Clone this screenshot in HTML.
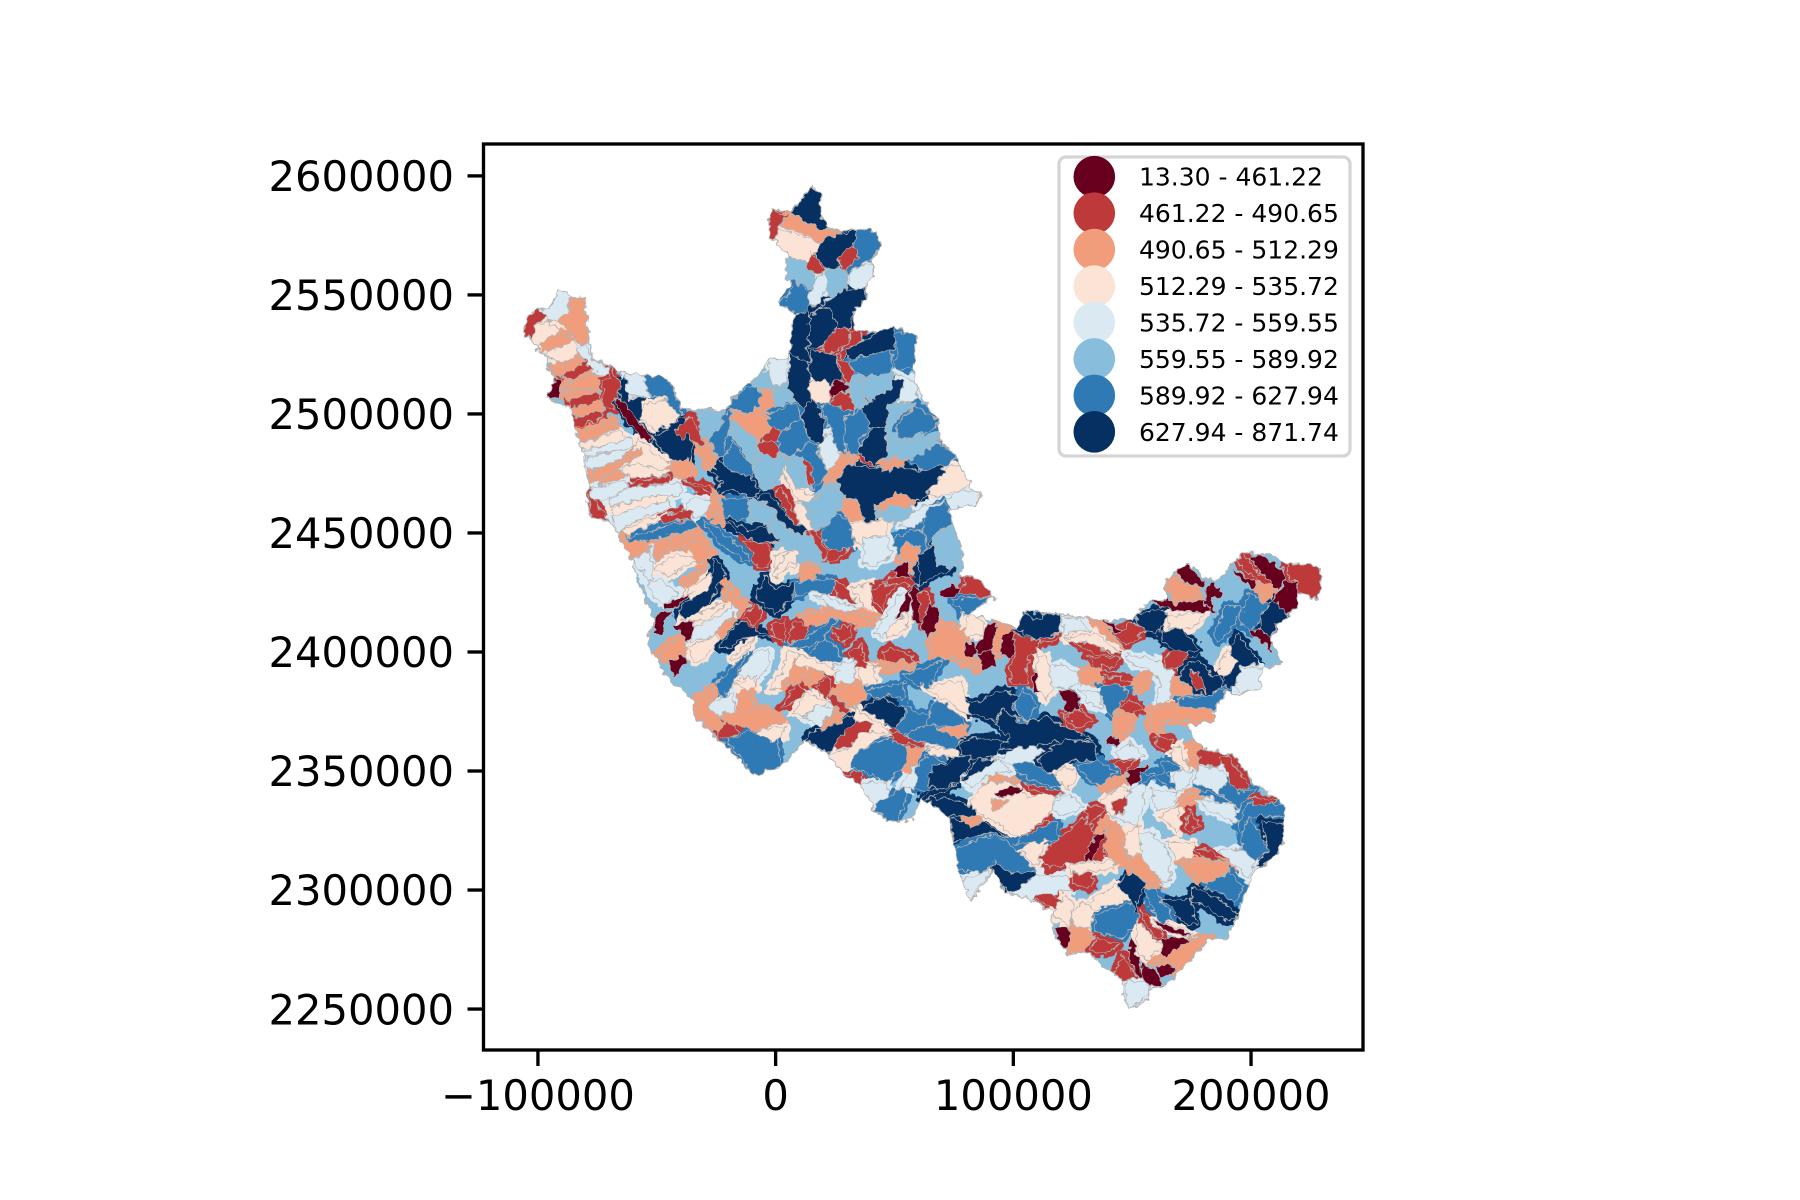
<!DOCTYPE html>
<html lang="en">
<head>
<meta charset="utf-8">
<title>Catchment choropleth</title>
<style>
html,body{margin:0;padding:0;background:#fff;width:1800px;height:1200px;overflow:hidden}
svg{display:block}
text{font-family:"DejaVu Sans","Liberation Sans",sans-serif;fill:#000}
</style>
</head>
<body>
<svg id="chart" xmlns="http://www.w3.org/2000/svg" width="1800" height="1200" viewBox="0 0 1800 1200">
<defs>
<filter id="rough-edge" filterUnits="userSpaceOnUse" x="480" y="140" width="890" height="915" color-interpolation-filters="sRGB">
<feTurbulence type="fractalNoise" baseFrequency="0.14" numOctaves="2" seed="4" result="noise"/>
<feDisplacementMap in="SourceGraphic" in2="noise" scale="9" xChannelSelector="R" yChannelSelector="G"/>
</filter>
<clipPath id="basin-clip"><polygon id="basin-clip-shape"/></clipPath>
</defs>
<rect width="1800" height="1200" fill="#fff"/>
<g id="map" filter="url(#rough-edge)">
<g id="map-fills" clip-path="url(#basin-clip)"></g>
</g>
<g id="axes"></g>
<g id="legend"></g>
</svg>
<script>
const xTicks = [-100000, 0, 100000, 200000];
const yTicks = [2250000, 2300000, 2350000, 2400000, 2450000, 2500000, 2550000, 2600000];
const classBreaks = [461.22, 490.65, 512.29, 535.72, 559.55, 589.92, 627.94, 871.74];
const classColors = ['#67001f', '#be3a3a', '#f19d7b', '#fbe3d6', '#dbe9f3', '#88bddb', '#2f79b5', '#053061'];
const legendLabels = ['13.30 - 461.22', '461.22 - 490.65', '490.65 - 512.29', '512.29 - 535.72', '535.72 - 559.55', '559.55 - 589.92', '589.92 - 627.94', '627.94 - 871.74'];

// Geometry: [estimated value, [easting km, northing km, ...]]
const basinOutline = [575, [-91,2553,-86,2549,-80,2549,-80,2544,-78,2531,-77,2523,-70,2520,-63,2517,-52,2516,-45,2515,-39,2502,-21,2502,-18,2506,-14,2511,-8,2516,-2,2523,5,2523,8,2542,1,2547,7,2556,4,2556,5,2566,0,2573,-3,2575,-2,2586,5,2585,11,2589,15,2596,19,2593,19,2583,22,2578,29,2577,34,2577,40,2578,45,2571,40,2564,42,2560,38,2553,38,2548,33,2544,33,2535,43,2534,50,2537,54,2535,60,2533,58,2520,59,2513,62,2506,68,2497,69,2489,76,2482,78,2478,82,2469,86,2467,85,2462,73,2460,75,2454,79,2439,78,2432,83,2432,92,2423,81,2416,93,2413,101,2410,105,2417,120,2416,131,2414,138,2413,150,2414,157,2421,164,2422,164,2429,168,2434,174,2437,181,2431,185,2430,190,2434,194,2439,197,2442,208,2441,215,2437,225,2437,230,2433,228,2422,219,2425,219,2419,214,2414,208,2406,213,2395,204,2393,204,2385,199,2384,195,2382,190,2384,184,2374,185,2371,174,2369,176,2362,181,2359,192,2357,202,2344,211,2339,214,2335,213,2328,214,2320,208,2312,202,2309,194,2289,190,2279,183,2280,169,2265,163,2259,157,2258,157,2254,149,2250,146,2254,146,2262,132,2273,123,2273,117,2282,116,2291,108,2296,103,2297,96,2299,92,2309,82,2295,78,2304,75,2319,73,2331,61,2339,58,2329,47,2329,42,2333,35,2345,29,2348,22,2357,12,2363,7,2357,2,2352,-9,2348,-19,2359,-25,2364,-34,2373,-35,2381,-44,2387,-54,2404,-51,2413,-61,2439,-65,2446,-66,2450,-70,2455,-77,2456,-80,2466,-78,2469,-82,2486,-86,2502,-96,2507,-93,2515,-95,2518,-97,2526,-101,2527,-103,2532,-106,2534,-105,2540,-100,2544,-95,2545]];

const northArmCatchments = [
[476,[-3,2575,-2,2586,5,2583,3,2579,1,2579,0,2574]],
[680,[6,2585,11,2589,15,2596,19,2593,19,2583,22,2578,19,2576,12,2581]],
[501,[1,2579,6,2584,12,2581,19,2577,29,2577,28,2576,21,2574,21,2571,11,2576,7,2577]],
[524,[0,2573,1,2578,7,2576,11,2575,19,2572,17,2568,13,2564,5,2566]],
[680,[17,2569,21,2574,34,2577,33,2572,26,2562,23,2561,17,2565]],
[609,[34,2577,40,2578,45,2571,40,2565,34,2562,30,2559,26,2561,33,2571]],
[476,[30,2570,35,2569,34,2565,29,2560,26,2564]],
[476,[15,2568,17,2565,21,2560,20,2559,14,2560,13,2564]],
[575,[5,2566,13,2564,14,2560,17,2558,17,2554,14,2553,7,2556,4,2556]],
[575,[21,2560,26,2562,30,2559,30,2552,24,2549,21,2552]],
[548,[31,2559,36,2563,42,2562,40,2553,34,2553,31,2554]],
[548,[18,2558,21,2559,21,2552,17,2545,14,2545,14,2551]],
[609,[7,2556,14,2552,14,2544,8,2542,1,2547,6,2550]],
[548,[22,2549,29,2550,24,2547,19,2546]],
[680,[19,2546,29,2552,37,2553,38,2548,33,2544,31,2535,26,2536,24,2543]],
[680,[8,2542,14,2543,14,2531,13,2527,15,2522,12,2522,6,2526,4,2530,6,2536]],
[680,[14,2540,19,2545,24,2543,26,2537,21,2528,14,2528]],
[680,[6,2526,14,2521,14,2516,15,2507,12,2502,5,2509,6,2517]],
[680,[15,2527,26,2525,26,2520,28,2516,24,2511,16,2514,14,2517]],
[524,[14,2513,20,2514,23,2513,23,2505,17,2504,15,2507]],
[440,[23,2510,26,2515,31,2512,31,2510,27,2509,24,2506]],
[476,[24,2506,27,2509,31,2509,33,2501,27,2502,23,2504]],
[680,[12,2502,15,2507,21,2497,20,2486,14,2490,11,2499]],
[476,[19,2527,26,2537,32,2534,31,2530,28,2528,24,2526]],
[476,[31,2534,35,2536,37,2531,31,2527,29,2523,26,2525,31,2530]],
[476,[26,2523,30,2522,33,2517,31,2513,28,2516]],
[680,[30,2527,43,2534,50,2537,51,2531,49,2526,40,2525,31,2523]],
[609,[31,2522,40,2525,49,2526,49,2518,43,2514,33,2517]],
[609,[50,2534,54,2535,60,2533,58,2520,50,2518,51,2527]],
[575,[37,2515,49,2518,50,2513,49,2509,40,2505,36,2507]],
[575,[31,2513,37,2515,36,2507,40,2504,37,2501,33,2502,31,2509]],
[548,[50,2517,56,2515,59,2513,59,2506,52,2504,52,2509,54,2511,50,2513]],
[680,[37,2504,48,2510,50,2515,54,2513,52,2507,48,2500,46,2495,41,2494,37,2497]],
[680,[35,2486,41,2494,46,2495,47,2482,41,2478,35,2483]],
[609,[29,2500,37,2501,40,2494,35,2489,35,2483,31,2483,28,2492]],
[609,[19,2503,23,2504,33,2501,29,2499,29,2483,25,2486,22,2496]],
[548,[18,2485,22,2492,26,2486,27,2481,23,2475,19,2482]],
[575,[47,2504,51,2505,59,2504,50,2496,47,2495]],
[609,[51,2495,59,2504,68,2497,67,2494,57,2490,51,2490]],
[575,[47,2492,51,2489,68,2490,69,2488,61,2482,57,2481,47,2482]],
[609,[57,2481,69,2488,76,2482,72,2478,61,2476]],
[476,[34,2483,37,2482,42,2478,35,2480]],
[501,[42,2478,54,2481,54,2478,47,2476,44,2477]],
[680,[26,2472,31,2479,38,2478,47,2476,54,2478,61,2476,70,2478,71,2475,68,2468,64,2467,61,2463,52,2466,42,2462,43,2455,37,2455,34,2464,28,2466]],
[524,[64,2467,71,2475,73,2478,78,2478,82,2470,75,2467,67,2465]],
[548,[72,2464,78,2468,86,2467,85,2462,74,2460]],
[501,[42,2461,51,2467,58,2464,56,2460,50,2462,44,2459]],
[575,[43,2459,50,2462,59,2459,55,2455,45,2455]],
[548,[52,2453,58,2459,64,2462,72,2464,64,2457,58,2452]],
[609,[64,2460,71,2463,75,2455,66,2449,64,2441,61,2449]],
[575,[66,2448,75,2455,79,2440,72,2434,67,2437]],
[609,[49,2448,58,2451,62,2451,64,2441,57,2439,51,2441]],
[501,[51,2440,56,2447,62,2440,57,2435]]
];

const upperBasinCatchments = [
[575,[-32,2501,-21,2502,-23,2496,-28,2489,-32,2490]],
[609,[-21,2500,-18,2501,-21,2488,-21,2482,-25,2482,-28,2490,-23,2495]],
[609,[-20,2503,-13,2511,-8,2511,-5,2507,-9,2501,-16,2501]],
[575,[-9,2515,-3,2518,-1,2510,-5,2511,-8,2511]],
[548,[-3,2517,-2,2523,5,2523,5,2514,-1,2511]],
[575,[-1,2509,5,2514,8,2506,2,2503,-1,2504]],
[501,[-8,2504,-4,2511,0,2504,-4,2500]],
[609,[-4,2499,2,2502,8,2505,11,2498,5,2495,1,2490,-4,2495]],
[501,[-18,2500,-10,2501,-4,2499,-1,2493,-6,2490,-8,2488,-11,2492,-16,2496]],
[476,[-6,2490,0,2495,2,2491,-1,2488,-5,2488]],
[476,[-7,2488,-1,2489,2,2485,0,2481,-7,2484]],
[609,[1,2490,8,2497,11,2498,14,2489,8,2483,2,2483]],
[609,[8,2483,14,2488,19,2486,18,2483,22,2476,16,2468,14,2476,12,2480]],
[476,[10,2479,14,2480,16,2473,15,2469,12,2475]],
[575,[5,2482,8,2483,12,2480,14,2469,10,2468,5,2472]],
[575,[-18,2495,-11,2492,-7,2484,-11,2479,-14,2485,-18,2490]],
[609,[-21,2482,-18,2489,-14,2483,-10,2479,-10,2473,-16,2475,-22,2478]],
[575,[-10,2479,-4,2483,-1,2481,4,2483,4,2477,-1,2469,-6,2468,-9,2474]],
[680,[-27,2476,-24,2482,-21,2478,-16,2475,-11,2474,-7,2468,-9,2464,-15,2467,-19,2469,-24,2466,-23,2472]],
[501,[28,2482,33,2482,25,2471,21,2472,22,2476]],
[524,[2,2477,5,2476,9,2468,17,2465,16,2462,9,2464,6,2469]],
[524,[8,2464,11,2462,16,2451,14,2450,9,2455]],
[476,[0,2468,3,2468,10,2455,9,2453,3,2461]],
[680,[-8,2465,-3,2467,1,2462,7,2455,14,2451,10,2449,4,2453,-1,2460]],
[575,[13,2462,24,2470,29,2466,28,2461,23,2454,16,2451]],
[501,[28,2464,34,2464,37,2455,31,2455,28,2460]],
[609,[19,2450,26,2458,32,2454,33,2444,25,2442,20,2446]],
[524,[31,2454,47,2455,47,2449,37,2448,36,2444,33,2447]],
[548,[37,2448,47,2448,49,2441,41,2436,37,2437]],
[609,[-23,2464,-12,2465,-11,2458,-16,2455,-22,2458]],
[575,[-11,2462,-4,2462,0,2457,-2,2453,-10,2456]],
[680,[-22,2455,-17,2454,-11,2451,-5,2453,2,2446,-8,2446,-15,2450]],
[476,[-14,2447,-4,2445,-2,2441,-4,2436,-8,2436,-10,2442]],
[476,[16,2448,21,2446,22,2443,31,2443,26,2439,21,2439]],
[575,[-2,2455,6,2451,16,2448,20,2443,21,2438,10,2437,3,2444,-2,2451]],
[476,[14,2451,17,2451,22,2441,20,2439]],
[524,[-1,2440,8,2443,8,2435,1,2434]]
];

const westernStripCatchments = [
[476,[-105,2540,-100,2544,-95,2542,-101,2537,-103,2532,-106,2534]],
[548,[-98,2543,-91,2553,-86,2549,-87,2544,-91,2539,-96,2539]],
[501,[-87,2548,-80,2548,-80,2543,-78,2530,-82,2528,-85,2532,-91,2539,-87,2544]],
[524,[-103,2532,-101,2537,-96,2539,-90,2535,-98,2530,-101,2527]],
[501,[-98,2530,-90,2534,-85,2532,-85,2528,-96,2526]],
[524,[-97,2525,-85,2531,-83,2525,-91,2521]],
[548,[-84,2527,-80,2530,-77,2523,-70,2519,-70,2516,-78,2518,-82,2524]],
[501,[-95,2518,-82,2524,-81,2521,-91,2516]],
[476,[-90,2516,-80,2522,-78,2518,-88,2514]],
[440,[-94,2515,-90,2515,-91,2507,-96,2507]],
[501,[-88,2513,-75,2517,-74,2511,-91,2510]],
[501,[-91,2509,-74,2511,-74,2509,-87,2506]],
[476,[-87,2506,-74,2509,-73,2506,-86,2502]],
[501,[-86,2502,-73,2506,-72,2501,-84,2499]],
[476,[-85,2498,-73,2502,-73,2498,-86,2494]],
[476,[-73,2514,-70,2515,-70,2520,-68,2517,-64,2510,-68,2506,-68,2502,-72,2502]],
[680,[-65,2514,-62,2516,-62,2506,-55,2507,-57,2502,-52,2499,-57,2497,-50,2490,-52,2487,-63,2498,-66,2505]],
[440,[-68,2507,-65,2506,-52,2490,-53,2487,-63,2497]],
[548,[-63,2517,-56,2517,-53,2507,-62,2507]],
[609,[-56,2516,-51,2516,-45,2515,-39,2500,-42,2500,-47,2507,-53,2508]],
[524,[-55,2504,-47,2506,-40,2499,-44,2495,-51,2493,-57,2499]],
[680,[-52,2490,-44,2495,-40,2498,-38,2498,-35,2488,-36,2479,-44,2481,-49,2486]],
[476,[-42,2493,-37,2498,-35,2499,-30,2487,-33,2487,-37,2492,-40,2489]],
[501,[-33,2487,-28,2488,-26,2483,-25,2477,-29,2478]],
[501,[-84,2492,-68,2497,-66,2494,-83,2487]],
[524,[-83,2487,-66,2493,-61,2489,-82,2485]],
[548,[-82,2484,-60,2490,-60,2486,-80,2482]],
[548,[-81,2481,-60,2486,-64,2482,-78,2476]],
[524,[-58,2490,-54,2486,-44,2479,-48,2477,-62,2479]],
[501,[-77,2476,-65,2480,-57,2486,-56,2484,-68,2476,-76,2471]],
[501,[-75,2470,-67,2477,-61,2474,-71,2471]],
[524,[-61,2479,-48,2477,-44,2476,-46,2474,-61,2473,-65,2477]],
[501,[-44,2479,-37,2481,-35,2475,-39,2472,-44,2476]],
[476,[-62,2471,-44,2474,-45,2471,-54,2470,-62,2469]],
[548,[-78,2469,-63,2472,-62,2470,-71,2464,-78,2464]],
[548,[-70,2464,-62,2469,-40,2471,-40,2466,-54,2465,-70,2461]],
[476,[-79,2466,-77,2465,-71,2456,-70,2455,-77,2456]],
[524,[-70,2460,-54,2465,-44,2466,-45,2464,-68,2457]],
[548,[-69,2457,-45,2464,-44,2461,-61,2454,-66,2450]],
[524,[-65,2451,-46,2459,-44,2457,-63,2449]],
[476,[-48,2457,-36,2460,-35,2456,-48,2454]],
[609,[-63,2448,-35,2456,-33,2452,-62,2445]],
[501,[-66,2450,-63,2449,-62,2445,-54,2444,-54,2439,-63,2440]],
[501,[-52,2445,-33,2452,-32,2451,-39,2447,-50,2438,-51,2438]],
[548,[-37,2465,-32,2465,-27,2463,-28,2460,-33,2456,-37,2460]],
[476,[-38,2472,-33,2471,-27,2469,-27,2467,-33,2469]],
[501,[-26,2467,-23,2464,-25,2460,-22,2454,-26,2454,-28,2458]],
[609,[-31,2455,-26,2453,-15,2444,-10,2438,-14,2439,-23,2445]],
[501,[-39,2445,-31,2447,-26,2441,-32,2437]]
];

const centralCatchments = [
[501,[-65,2446,-57,2447,-53,2443,-61,2439]],
[501,[-51,2447,-44,2447,-48,2441,-51,2437]],
[548,[-61,2439,-53,2443,-51,2431,-54,2429,-56,2434]],
[524,[-51,2435,-42,2441,-32,2439,-40,2435,-44,2432,-48,2433]],
[501,[-39,2429,-31,2434,-33,2430,-38,2426]],
[524,[-37,2426,-27,2433,-26,2429,-28,2426,-35,2422]],
[680,[-41,2415,-39,2420,-28,2426,-26,2436,-27,2439,-23,2437,-21,2432,-29,2420,-35,2414]],
[440,[-47,2420,-35,2425,-42,2418,-47,2418]],
[440,[-51,2414,-49,2417,-43,2417,-47,2413,-47,2408,-51,2408]],
[548,[-54,2429,-48,2430,-41,2425,-47,2420,-51,2423]],
[501,[-50,2399,-44,2404,-40,2406,-37,2401,-42,2397,-47,2397]],
[440,[-45,2396,-39,2399,-37,2396,-42,2390,-44,2392]],
[440,[-43,2411,-35,2413,-34,2410,-37,2404,-40,2408]],
[548,[-36,2404,-34,2411,-23,2415,-18,2420,-16,2415,-24,2408,-29,2406]],
[524,[-40,2413,-23,2420,-21,2420,-28,2414,-35,2413]],
[501,[-25,2408,-18,2416,-16,2413,-23,2405]],
[501,[-21,2429,-15,2422,-10,2420,-15,2415,-18,2422,-21,2423]],
[524,[-37,2402,-25,2407,-25,2404,-30,2397,-35,2396]],
[680,[-24,2402,-17,2411,-14,2413,-7,2409,0,2406,-7,2407,-14,2405,-21,2401]],
[476,[-13,2415,-9,2420,-5,2418,-7,2413,-9,2411]],
[680,[-9,2423,-4,2432,-1,2426,8,2429,7,2422,0,2416,-5,2420]],
[524,[-1,2432,3,2440,9,2443,9,2439,3,2434,1,2431]],
[501,[10,2430,14,2439,18,2433,15,2429]],
[609,[8,2429,24,2431,26,2429,22,2423,16,2426,8,2423]],
[476,[25,2429,28,2429,35,2420,32,2420,26,2423]],
[548,[16,2424,22,2423,32,2419,38,2418,25,2417]],
[524,[32,2427,40,2429,41,2417,37,2419]],
[476,[40,2427,51,2429,48,2425,45,2418,42,2421,41,2423]],
[501,[10,2415,24,2418,47,2414,41,2413,32,2411,27,2414,14,2411]],
[476,[-2,2411,4,2413,4,2404,0,2406]],
[476,[5,2404,8,2413,14,2411,12,2405]],
[476,[23,2410,32,2411,32,2406,28,2404]],
[609,[5,2403,13,2406,24,2414,26,2413,19,2405,12,2401]],
[609,[14,2399,20,2406,26,2402,28,2396,20,2396]],
[476,[31,2399,36,2404,38,2394,34,2394]],
[524,[45,2411,51,2414,55,2417,56,2413,55,2409,47,2406]],
[548,[42,2408,45,2413,49,2419,51,2423,56,2427,55,2417,49,2411,45,2407]],
[440,[50,2414,54,2421,56,2427,57,2427,56,2417]],
[440,[57,2428,60,2426,61,2412,59,2411,57,2418]],
[476,[60,2425,64,2425,65,2420,61,2411]],
[440,[61,2410,65,2421,69,2417,67,2410,64,2406]],
[440,[48,2434,56,2438,57,2431,52,2432]],
[476,[45,2429,51,2432,57,2431,60,2428,51,2429]],
[501,[54,2447,61,2443,60,2437,52,2439]],
[680,[60,2440,66,2445,68,2437,74,2434,68,2433,63,2429,60,2427]],
[440,[68,2424,74,2428,79,2427,77,2424,73,2423]],
[476,[79,2431,83,2432,92,2423,78,2424,79,2427]],
[609,[74,2422,91,2423,87,2420,84,2416,78,2416,77,2418]],
[524,[80,2415,84,2416,87,2412,87,2408,80,2406]],
[501,[65,2405,70,2412,79,2408,80,2401,85,2393,75,2398,66,2397]],
[440,[84,2401,89,2412,93,2411,91,2399,85,2399]],
[440,[80,2404,84,2404,85,2399,83,2397,80,2399]],
[440,[85,2399,91,2401,94,2394,87,2393]],
[501,[93,2411,101,2410,96,2407,94,2399,91,2401]],
[476,[98,2408,110,2405,110,2399,106,2399,106,2387,100,2387,98,2391,101,2399]],
[440,[94,2399,96,2408,100,2408,101,2399,98,2398]],
[440,[108,2392,112,2392,113,2383,108,2383]],
[680,[101,2410,105,2417,108,2414,111,2414,112,2416,120,2416,120,2408,110,2405]],
[476,[110,2405,121,2408,118,2405,111,2404]],
[548,[120,2415,128,2414,132,2409,122,2407]],
[524,[110,2399,114,2398,117,2384,113,2380,110,2386]],
[476,[44,2399,48,2402,58,2398,59,2396,48,2396]],
[501,[40,2395,60,2394,58,2392,44,2393]],
[609,[54,2390,71,2397,64,2385,58,2387]],
[548,[24,2395,34,2396,33,2387,26,2387]],
[524,[35,2394,42,2394,42,2387,36,2386]],
[548,[-16,2390,-10,2399,-3,2401,-3,2394,-8,2388]],
[609,[-25,2387,-19,2393,-11,2401,-15,2394,-19,2384,-23,2380]],
[524,[-18,2387,-9,2390,-8,2385,-13,2384]],
[524,[-19,2397,-9,2406,-11,2402,-18,2396]],
[501,[-16,2381,-10,2383,-9,2376,-17,2374]],
[548,[-28,2378,-18,2383,-17,2374,-25,2373]],
[501,[-34,2380,-26,2385,-28,2377,-23,2371,-22,2365,-28,2368,-31,2373]],
[501,[-22,2374,-9,2376,-4,2376,3,2371,-8,2367,-16,2369,-23,2367]],
[476,[-25,2364,-21,2371,-15,2367,-19,2363]],
[524,[-8,2367,4,2369,3,2364,-1,2362,-8,2364]],
[609,[-21,2363,-10,2367,-2,2362,1,2363,2,2352,-9,2348,-14,2355]],
[524,[-3,2384,3,2392,5,2401,10,2399,9,2394,5,2391,2,2385]],
[501,[6,2391,8,2397,13,2393,10,2387,4,2385]],
[524,[10,2399,27,2392,24,2390,15,2394,9,2394]],
[501,[13,2387,16,2394,21,2390,17,2387]],
[476,[17,2385,22,2390,24,2385,21,2380]],
[476,[2,2376,9,2387,13,2383,6,2378]],
[476,[22,2380,24,2382,31,2376,30,2373]],
[524,[7,2374,13,2383,24,2378,17,2378,12,2373]],
[548,[12,2373,18,2378,25,2376,18,2368]],
[501,[18,2367,26,2376,30,2373,20,2366]],
[501,[24,2383,33,2387,40,2383,34,2377,32,2376]],
[609,[38,2384,54,2387,54,2380,47,2382,41,2380]],
[680,[36,2376,45,2381,55,2376,51,2368,45,2371]],
[609,[54,2378,61,2374,67,2373,62,2367,55,2364,51,2368,55,2374]],
[609,[68,2380,78,2373,80,2369,66,2369,63,2371]],
[501,[67,2368,79,2369,79,2364,71,2364]],
[524,[63,2385,78,2388,82,2373,75,2377,66,2383]],
[524,[33,2377,50,2365,44,2364,35,2367,33,2371]],
[680,[13,2363,15,2367,19,2367,32,2373,33,2371,22,2357]],
[476,[24,2360,33,2371,38,2371,41,2369,31,2360,26,2359]],
[524,[22,2357,30,2359,37,2367,48,2366,33,2357,33,2350,28,2350]],
[476,[29,2348,35,2350,37,2348,35,2344]],
[609,[33,2357,47,2364,56,2360,56,2354,47,2345,38,2350,32,2351]],
[548,[35,2345,47,2345,47,2339,42,2333,39,2336]],
[609,[42,2336,54,2343,55,2339,51,2329,47,2329,43,2333]],
[548,[52,2343,59,2354,59,2342]],
[501,[55,2360,64,2360,58,2352,55,2351]],
[609,[55,2366,64,2370,78,2363,75,2359,63,2362,55,2363]],
[476,[49,2366,54,2366,55,2363,63,2362,63,2360,49,2362]],
[524,[64,2360,76,2359,78,2356,73,2356,65,2357]],
[609,[59,2352,65,2357,71,2354,67,2350,64,2342,59,2342]],
[680,[78,2362,83,2364,92,2364,97,2362,94,2359,93,2356,83,2355,78,2357]],
[680,[64,2344,66,2352,72,2353,75,2356,83,2356,80,2350,76,2344,69,2343]],
[680,[78,2346,85,2355,93,2355,89,2350,80,2346]],
[680,[61,2338,65,2342,69,2343,76,2345,70,2341,64,2338]],
[680,[63,2338,71,2339,84,2335,84,2331,75,2331,71,2331]],
[680,[74,2330,79,2329,87,2329,98,2322,89,2324,75,2320]],
[501,[79,2330,87,2331,85,2327,82,2326]],
[609,[75,2317,89,2323,97,2321,110,2308,100,2307,92,2311,88,2308,76,2308]],
[680,[90,2305,92,2312,99,2307,110,2308,110,2301,99,2299]],
[548,[78,2304,88,2308,90,2307,85,2301,82,2295]],
[548,[99,2299,110,2307,122,2306,124,2300,106,2295]],
[476,[108,2297,117,2298,122,2294,122,2292,113,2294]],
[476,[125,2307,133,2307,133,2301,125,2302]],
[524,[82,2338,89,2345,99,2345,106,2339,118,2341,117,2334,112,2329,102,2322,92,2329,83,2334]],
[440,[92,2341,98,2343,105,2343,101,2340,94,2339]],
[476,[105,2345,122,2341,117,2339,107,2343]],
[501,[90,2349,101,2346,89,2345]],
[501,[90,2338,99,2338,92,2333]],
[609,[99,2352,103,2356,122,2345,117,2343,105,2347]],
[548,[79,2346,94,2355,99,2350,89,2348,82,2343]],
[548,[93,2355,103,2361,113,2359,107,2354,99,2353]],
[680,[110,2355,121,2363,134,2362,136,2355,124,2354,115,2349]],
[680,[92,2370,96,2376,104,2370,113,2373,125,2367,134,2363,121,2363,108,2360,94,2359,99,2364]],
[680,[80,2380,83,2378,96,2384,103,2381,99,2378,104,2371,96,2376,92,2371,82,2374]],
[609,[100,2378,104,2384,110,2378,107,2371,104,2371]],
[476,[121,2374,129,2376,133,2371,124,2367]],
[440,[121,2384,124,2385,129,2378,124,2374,122,2378]],
[524,[117,2348,122,2352,127,2349,123,2342]]
];

const easternCatchments = [
[501,[132,2415,137,2413,143,2406,146,2402,139,2406]],
[440,[137,2413,141,2413,146,2408,144,2407]],
[476,[142,2407,150,2413,156,2410,152,2406,148,2403]],
[680,[150,2415,162,2418,165,2415,160,2407,155,2410]],
[524,[121,2406,135,2408,145,2399,136,2402,125,2404]],
[476,[125,2404,131,2404,142,2399,135,2399]],
[476,[131,2398,145,2398,143,2394,135,2394]],
[501,[127,2392,136,2393,138,2387,129,2386]],
[548,[116,2394,120,2395,127,2391,128,2387,122,2385,116,2385]],
[476,[138,2390,150,2388,148,2385,139,2385]],
[501,[150,2385,156,2392,160,2392,155,2385,152,2384]],
[609,[136,2385,142,2387,149,2384,145,2378,141,2373,138,2378]],
[476,[144,2376,149,2380,155,2376,149,2374]],
[548,[127,2385,136,2383,138,2376,132,2378]],
[440,[120,2384,123,2385,128,2380,128,2376,122,2374]],
[476,[122,2373,127,2376,134,2371,127,2368]],
[548,[147,2399,159,2397,167,2392,166,2380,160,2378,162,2387,157,2393,150,2395]],
[476,[164,2398,167,2400,174,2402,173,2398,169,2392,164,2394]],
[680,[162,2409,170,2410,175,2405,178,2401,172,2399,163,2404]],
[524,[165,2415,181,2417,176,2410,165,2410]],
[440,[157,2421,164,2423,169,2420,181,2422,185,2418,181,2417,169,2417]],
[501,[164,2429,170,2431,177,2427,178,2423,169,2421,167,2425]],
[440,[168,2434,174,2437,177,2432,181,2430,180,2427,171,2429]],
[440,[181,2427,184,2429,189,2424,183,2422,186,2415,181,2420]],
[609,[184,2408,190,2420,197,2418,195,2415,190,2408,186,2404]],
[609,[195,2413,199,2425,207,2420,206,2417,200,2408]],
[440,[191,2435,202,2429,201,2427,194,2431]],
[476,[194,2439,197,2442,201,2435,210,2429,208,2427,199,2433]],
[440,[199,2439,204,2441,213,2435,215,2431,211,2426,204,2434]],
[501,[202,2428,210,2429,209,2422,205,2423]],
[476,[215,2437,225,2437,230,2433,228,2422,220,2424,219,2429,216,2432]],
[440,[211,2425,215,2430,219,2429,219,2419,214,2415,210,2422]],
[680,[204,2415,210,2422,216,2414,211,2411,207,2405,204,2408]],
[440,[199,2408,204,2410,209,2405,208,2400,205,2404]],
[680,[188,2386,194,2408,201,2399,204,2395,196,2394,193,2385]],
[524,[186,2394,190,2401,194,2396,190,2390,186,2392]],
[548,[193,2385,196,2393,204,2394,204,2385,197,2382]],
[680,[169,2388,172,2394,178,2397,184,2390,187,2391,188,2386,183,2382,174,2383]],
[476,[174,2392,178,2392,181,2383,176,2385]],
[501,[166,2387,169,2389,174,2385,176,2382,171,2381,167,2382]],
[609,[169,2380,181,2382,190,2385,185,2376,177,2374,171,2376]],
[501,[157,2376,163,2377,167,2377,184,2376,186,2371,172,2371,162,2371,162,2364,158,2367]],
[501,[143,2374,149,2375,150,2370,146,2364,143,2366]],
[440,[139,2362,141,2366,145,2362,143,2360]],
[476,[159,2364,167,2364,167,2359,162,2359]],
[524,[166,2357,170,2361,174,2350,172,2349]],
[501,[174,2361,180,2362,178,2349,175,2352]],
[476,[178,2359,192,2358,186,2352,178,2353]],
[476,[186,2356,191,2356,199,2343,193,2341,190,2349]],
[548,[178,2352,186,2352,190,2346,186,2341,176,2345]],
[609,[186,2341,190,2346,195,2341,202,2343,195,2334,187,2340]],
[609,[175,2343,186,2340,195,2334,194,2333]],
[476,[199,2339,211,2338,207,2334,202,2335]],
[548,[143,2358,149,2362,155,2357,153,2355,145,2355]],
[476,[142,2353,152,2355,146,2349]],
[440,[147,2350,157,2353,154,2348,150,2344,148,2346]],
[609,[127,2352,135,2355,143,2350,137,2344,131,2347]],
[501,[137,2344,148,2348,148,2345,139,2340]],
[524,[137,2338,145,2343,149,2341,146,2332,141,2331]],
[476,[141,2336,147,2340,148,2334,143,2331]],
[548,[149,2342,155,2345,155,2336,152,2327,141,2331,146,2332]],
[609,[153,2349,162,2349,164,2350,169,2341,159,2348,154,2345]],
[609,[162,2354,167,2354,170,2350,164,2349]],
[548,[168,2350,176,2350,173,2343,168,2341]],
[548,[158,2343,168,2341,167,2335,160,2333]],
[501,[167,2334,174,2341,181,2339,174,2336]],
[548,[178,2338,193,2336,194,2328,181,2334]],
[524,[161,2331,169,2335,171,2327,169,2324,165,2329]],
[476,[172,2326,174,2334,179,2327,173,2325]],
[609,[194,2328,199,2336,214,2336,214,2331,204,2331,199,2331,196,2322]],
[609,[196,2322,199,2331,205,2321,207,2317,202,2312,196,2317]],
[680,[202,2310,207,2317,204,2329,213,2328,214,2320,208,2312]],
[548,[186,2317,196,2317,202,2312,199,2305,191,2312]]
];

const southernCatchments = [
[524,[164,2320,176,2320,176,2314,169,2313]],
[476,[176,2317,181,2317,189,2312,181,2313]],
[501,[170,2312,188,2312,192,2308,184,2303,179,2303,173,2309]],
[609,[180,2301,191,2308,197,2301,193,2294,187,2299]],
[680,[175,2301,179,2300,187,2296,195,2289,189,2287,181,2293,175,2295]],
[680,[162,2296,175,2296,177,2286,173,2285,169,2289,166,2294]],
[609,[156,2301,160,2301,162,2296,167,2288,163,2286,157,2294]],
[680,[143,2299,147,2306,151,2307,156,2303,152,2295,153,2289,149,2290,150,2296]],
[501,[148,2314,154,2315,163,2302,156,2303,150,2308]],
[548,[153,2324,159,2324,166,2315,166,2304,163,2303,154,2314]],
[524,[147,2325,153,2327,154,2315,148,2315]],
[501,[139,2324,143,2327,148,2315,143,2310,139,2316]],
[501,[134,2324,137,2331,141,2327,137,2321]],
[476,[111,2313,117,2320,131,2331,134,2324,139,2324,138,2313,128,2312,122,2311,115,2309]],
[440,[129,2312,134,2322,139,2325,133,2312]],
[524,[103,2316,107,2320,115,2322,111,2314,110,2310]],
[609,[107,2326,118,2329,119,2321,107,2320,101,2319]],
[476,[131,2335,139,2335,136,2331,131,2328]],
[476,[105,2324,115,2330,115,2328,106,2323]],
[548,[120,2340,123,2340,130,2335,120,2331,117,2334]],
[524,[124,2311,142,2312,143,2309,124,2307]],
[524,[130,2293,143,2303,150,2296,134,2292]],
[524,[116,2291,122,2298,125,2295,124,2285,117,2289]],
[524,[124,2289,129,2295,134,2292,133,2284,125,2285]],
[609,[134,2289,150,2295,153,2288,146,2280,135,2282]],
[440,[117,2284,122,2285,125,2277,121,2276]],
[501,[122,2273,125,2286,134,2280,129,2275,127,2273]],
[476,[132,2275,135,2280,145,2277,139,2273]],
[524,[152,2280,152,2287,159,2280,162,2276,157,2271,153,2273]],
[476,[142,2265,146,2273,152,2263,146,2262]],
[440,[148,2275,150,2280,155,2263,152,2263]],
[440,[154,2270,162,2264,163,2260,158,2259,154,2264]],
[440,[159,2269,167,2268,168,2265,162,2264]],
[440,[162,2280,171,2280,176,2279,166,2272,162,2273]],
[476,[154,2292,156,2289,163,2281,160,2280,155,2286]],
[524,[159,2287,166,2286,178,2280,174,2280,164,2284]],
[440,[159,2287,162,2287,176,2280,171,2281,163,2283]],
[501,[158,2270,164,2272,177,2280,183,2280,169,2265,167,2269]],
[548,[147,2262,157,2261,157,2256,149,2250,147,2254]]
];

const SVG_NS = 'http://www.w3.org/2000/svg';
const plotLeft = 483.5, plotRight = 1363, plotTop = 144, plotBottom = 1050;
const xDomain = [-122900, 247100];
const yDomain = [2232800, 2613400];

function xScale(metres) {
  return plotLeft + (metres - xDomain[0]) / (xDomain[1] - xDomain[0]) * (plotRight - plotLeft);
}
function yScale(metres) {
  return plotBottom - (metres - yDomain[0]) / (yDomain[1] - yDomain[0]) * (plotBottom - plotTop);
}
function colorFor(value) {
  for (let i = 0; i < classBreaks.length; i++) {
    if (value <= classBreaks[i]) return classColors[i];
  }
  return classColors[classColors.length - 1];
}
function make(tag, attrs, parent) {
  const el = document.createElementNS(SVG_NS, tag);
  for (const key in attrs) el.setAttribute(key, attrs[key]);
  parent.appendChild(el);
  return el;
}
function ringPoints(ring) {
  const pts = [];
  for (let i = 0; i < ring.length; i += 2) {
    pts.push(xScale(ring[i] * 1000).toFixed(1) + ',' + yScale(ring[i + 1] * 1000).toFixed(1));
  }
  return pts.join(' ');
}

const mapFills = document.getElementById('map-fills');
const mapLayer = document.getElementById('map');
const allGroups = [northArmCatchments, upperBasinCatchments, westernStripCatchments, centralCatchments, easternCatchments, southernCatchments];

document.getElementById('basin-clip-shape').setAttribute('points', ringPoints(basinOutline[1]));

const basinFill = make('polygon', {points: ringPoints(basinOutline[1]), fill: colorFor(basinOutline[0])}, mapFills);



// First pass: catchments spread outward in their own colour to close gaps; the lowest class stays thin.
allGroups.forEach(function (group) {
  group.forEach(function (entry) {
    if (entry[0] <= classBreaks[0]) return;
    const color = colorFor(entry[0]);
    const spread = make('polygon', {points: ringPoints(entry[1]), fill: color, stroke: color, 'stroke-width': 9, 'stroke-linejoin': 'round'}, mapFills);
    
    
  });
});
// Second pass: the catchment itself with its thin grey boundary.
allGroups.forEach(function (group) {
  group.forEach(function (entry) {
    const poly = make('polygon', {points: ringPoints(entry[1]), fill: colorFor(entry[0]), stroke: '#b4b4b4', 'stroke-width': 0.9, 'stroke-linejoin': 'round'}, mapFills);
    
    
  });
});
const basinEdge = make('polygon', {points: ringPoints(basinOutline[1]), fill: 'none', stroke: '#b4b4b4', 'stroke-width': 1.2, 'stroke-linejoin': 'round'}, mapLayer);



const axesLayer = document.getElementById('axes');
xTicks.forEach(function (tick) {
  const x = xScale(tick);
  const mark = make('line', {x1: x, x2: x, y1: plotBottom, y2: plotBottom + 16, stroke: '#000', 'stroke-width': 3.33}, axesLayer);
  
  
  const label = make('text', {x: x, y: 1110, 'font-size': 41.67, 'text-anchor': 'middle'}, axesLayer);
  label.textContent = String(tick).replace('-', '\u2212');
  
  
});
yTicks.forEach(function (tick) {
  const y = yScale(tick);
  const mark = make('line', {x1: plotLeft - 16, x2: plotLeft, y1: y, y2: y, stroke: '#000', 'stroke-width': 3.33}, axesLayer);
  
  
  const label = make('text', {x: 454, y: y + 15.2, 'font-size': 41.67, 'text-anchor': 'end'}, axesLayer);
  label.textContent = String(tick);
  
  
});
const frame = make('rect', {x: plotLeft, y: plotTop, width: plotRight - plotLeft, height: plotBottom - plotTop, fill: 'none', stroke: '#000', 'stroke-width': 3.33}, axesLayer);



const legendLayer = document.getElementById('legend');
const legendBox = make('rect', {x: 1059, y: 157, width: 291, height: 299, rx: 7, ry: 7, fill: '#fff', stroke: '#d5d5d5', 'stroke-width': 3.3}, legendLayer);


legendLabels.forEach(function (text, i) {
  const y = 176.7 + i * 36.45;
  const dot = make('circle', {cx: 1094.3, cy: y, r: 20.8, fill: classColors[i]}, legendLayer);
  
  
  const label = make('text', {x: 1139, y: y + 9, 'font-size': 25}, legendLayer);
  label.textContent = text;
  
  
});
</script>
</body>
</html>
